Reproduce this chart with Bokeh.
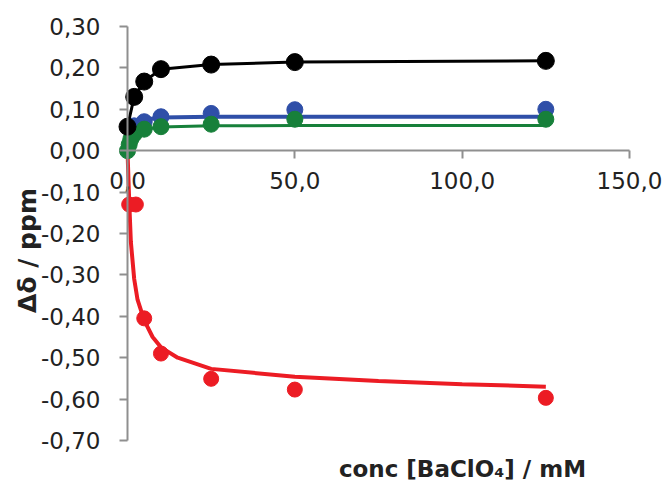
import math
from bokeh.plotting import figure
from bokeh.models import Range1d, FixedTicker, Label, CustomJSTickFormatter
from bokeh.embed import file_html
from bokeh.resources import INLINE

# ---- data ----
black_x = [0, 2, 5, 10, 25, 50, 125]
black_y = [0.058, 0.130, 0.167, 0.197, 0.208, 0.214, 0.217]

blue_x = [2, 5, 10, 25, 50, 125]
blue_y = [0.060, 0.070, 0.082, 0.090, 0.099, 0.100]
blue_fit_x = [0, 1, 2, 5, 10, 25, 50, 125]
blue_fit_y = [0.045, 0.058, 0.066, 0.075, 0.080, 0.082, 0.082, 0.082]

green_x = [0, 0.5, 1, 2, 5, 10, 25, 50, 125]
green_y = [0.000, 0.015, 0.028, 0.040, 0.052, 0.058, 0.064, 0.076, 0.076]
green_fit_x = [0, 0.5, 1, 2, 3, 5, 10, 25, 50, 125]
green_fit_y = [0.000, 0.020, 0.030, 0.040, 0.046, 0.052, 0.057, 0.060, 0.061, 0.061]

red_x = [0.5, 2.5, 5, 10, 25, 50, 125]
red_y = [-0.130, -0.130, -0.405, -0.490, -0.551, -0.577, -0.597]
red_fit_x = [0, 0.5, 1, 2, 3, 5, 7.5, 10, 15, 25, 50, 75, 100, 125]
red_fit_y = [0.000, -0.120, -0.220, -0.310, -0.360, -0.410, -0.450, -0.475, -0.500,
             -0.527, -0.546, -0.556, -0.564, -0.570]

x_ticks = [0, 50, 100, 150]
x_tick_labels = ["0,0", "50,0", "100,0", "150,0"]
y_ticks = [-0.70, -0.60, -0.50, -0.40, -0.30, -0.20, -0.10, 0.00, 0.10, 0.20, 0.30]
y_tick_labels = ["-0,70", "-0,60", "-0,50", "-0,40", "-0,30", "-0,20", "-0,10",
                 "0,00", "0,10", "0,20", "0,30"]

x_title = "conc [BaClO\u2084] / mM"
y_title = "\u0394\u03b4 / ppm"

# ---- styling ----
FONT = "DejaVu Sans"
AXIS_GREY = "#8f8f8f"
TEXT = "#222222"
BLACK = "#000000"
BLUE = "#2f4fa8"
GREEN = "#17803a"
RED = "#ec1c24"

W, H = 669, 487
# layout: pixel position of the axes inside the canvas
X0_PX, X150_PX = 127, 629     # x = 0 and x = 150
Y03_PX, YM07_PX = 26, 440     # y = 0.30 and y = -0.70
sx = (X150_PX - X0_PX) / 150.0
sy = (YM07_PX - Y03_PX) / 1.0
x_start = -X0_PX / sx
x_end = (W - X0_PX) / sx
y_end = 0.30 + Y03_PX / sy
y_start = -0.70 - (H - YM07_PX) / sy
y0_px = Y03_PX + 0.30 * sy

p = figure(width=W, height=H,
           x_range=Range1d(x_start, x_end), y_range=Range1d(y_start, y_end),
           output_backend="svg", toolbar_location=None, min_border=0)
p.xgrid.visible = False
p.ygrid.visible = False
p.outline_line_color = None
p.background_fill_color = "white"
p.border_fill_color = "white"

fmt_code = ("let i = tv.findIndex(t => Math.abs(t - tick) < 1e-9);"
            "return i >= 0 ? tl[i] : '';")

xa = p.xaxis[0]
xa.fixed_location = 0
xa.bounds = (0, 150)
xa.ticker = FixedTicker(ticks=x_ticks)
xa.formatter = CustomJSTickFormatter(args=dict(tv=x_ticks, tl=x_tick_labels), code=fmt_code)
xa.major_label_standoff = 13

ya = p.yaxis[0]
ya.fixed_location = 0
ya.bounds = (-0.70, 0.30)
ya.ticker = FixedTicker(ticks=y_ticks)
ya.formatter = CustomJSTickFormatter(args=dict(tv=y_ticks, tl=y_tick_labels), code=fmt_code)
ya.major_label_standoff = 19

for ax in (xa, ya):
    ax.axis_line_color = AXIS_GREY
    ax.axis_line_width = 2
    ax.major_tick_line_color = AXIS_GREY
    ax.major_tick_line_width = 2
    ax.major_tick_in = 0
    ax.major_tick_out = 8
    ax.minor_tick_line_color = None
    ax.major_label_text_font = FONT
    ax.major_label_text_font_size = "23px"
    ax.major_label_text_color = TEXT

# ---- series ----
p.line(red_fit_x, red_fit_y, line_color=RED, line_width=4)
p.scatter(red_x, red_y, size=15, fill_color=RED, line_color=RED)

p.line(blue_fit_x, blue_fit_y, line_color=BLUE, line_width=4)
p.scatter(blue_x, blue_y, size=16, fill_color=BLUE, line_color=BLUE)

p.line(green_fit_x, green_fit_y, line_color=GREEN, line_width=3)
p.scatter(green_x, green_y, size=16, fill_color=GREEN, line_color=GREEN)

p.line(black_x, black_y, line_color=BLACK, line_width=3)
p.scatter(black_x, black_y, size=17, fill_color=BLACK, line_color=BLACK)

# ---- axis titles ----
p.add_layout(Label(x=(27 - X0_PX) / sx, y=-(250 - y0_px) / sy, text=y_title, angle=math.pi / 2,
                   text_align="center", text_baseline="middle",
                   text_font=FONT, text_font_style="bold", text_font_size="25px",
                   text_color=TEXT))
p.add_layout(Label(x=(462 - X0_PX) / sx, y=-(468 - y0_px) / sy, text=x_title,
                   text_align="center", text_baseline="middle",
                   text_font=FONT, text_font_style="bold", text_font_size="23px",
                   text_color=TEXT))

open("out.html", "w").write(file_html(p, INLINE))
